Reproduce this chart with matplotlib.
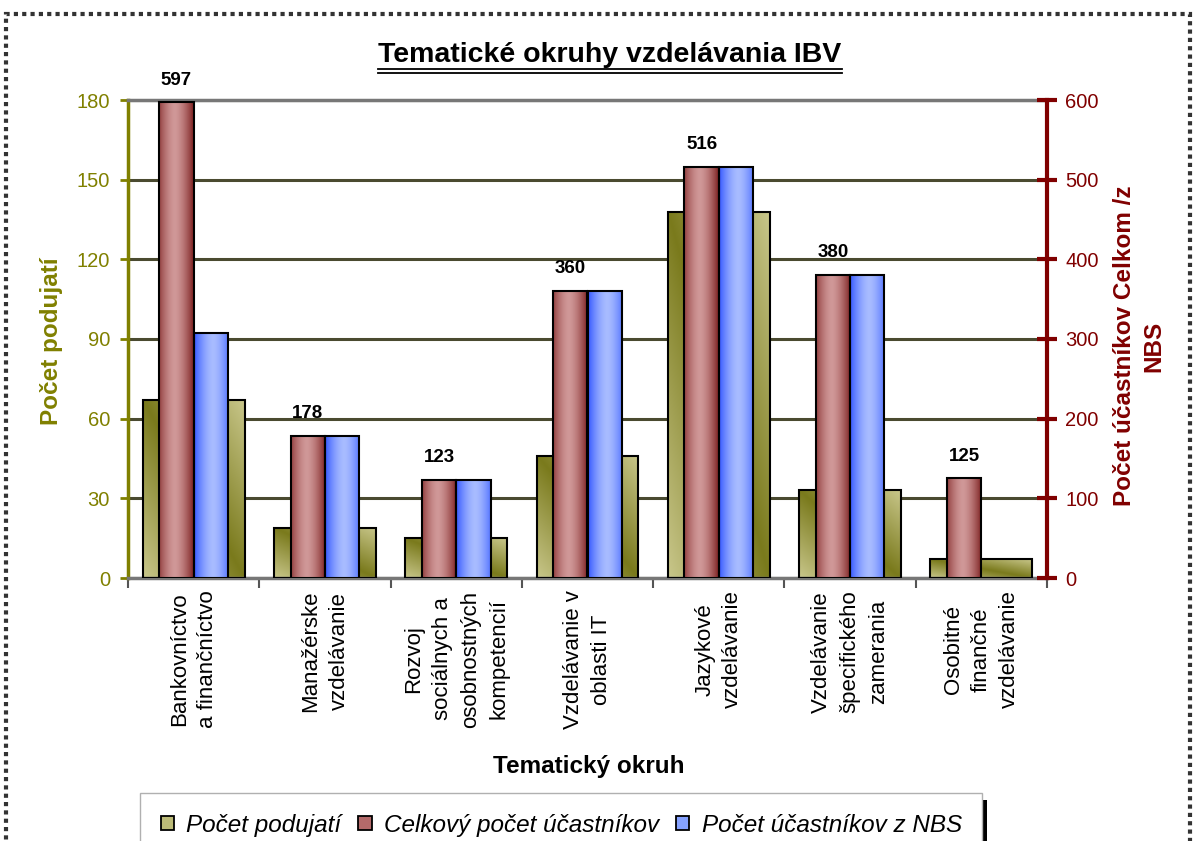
import numpy as np
import matplotlib
matplotlib.use("Agg")
import matplotlib.pyplot as plt
from matplotlib.patches import Patch, Rectangle
from matplotlib.lines import Line2D

plt.rcParams['font.family'] = ['Liberation Sans', 'DejaVu Sans']

# ---------------- data ----------------
categories = [
    "Bankovníctvo\na finančníctvo",
    "Manažérske\nvzdelávanie",
    "Rozvoj\nsociálnych a\nosobnostných\nkompetencií",
    "Vzdelávanie v\noblasti IT",
    "Jazykové\nvzdelávanie",
    "Vzdelávanie\nšpecifického\nzamerania",
    "Osobitné\nfinančné\nvzdelávanie",
]
pocet_podujati = [67, 19, 15, 46, 138, 33, 7]
celkovy_pocet = [597, 178, 123, 360, 516, 380, 125]
pocet_nbs = [308, 178, 123, 360, 516, 380, 0]

series_names = ["Počet podujatí", "Celkový počet účastníkov", "Počet účastníkov z NBS"]
left_ticks = [0, 30, 60, 90, 120, 150, 180]
right_ticks = [0, 100, 200, 300, 400, 500, 600]

title = "Tematické okruhy vzdelávania IBV"
xlabel = "Tematický okruh"
ylabel_left = "Počet podujatí"
ylabel_right = "Počet účastníkov Celkom /z\nNBS"

OLIVE = '#808000'
DRED = '#800000'

# ---------------- figure ----------------
W, H = 1195, 841
fig = plt.figure(figsize=(W / 100, H / 100), dpi=100)
ax = fig.add_axes([128 / W, 1 - 578 / H, (1047 - 128) / W, (578 - 100) / H])
ax2 = ax.twinx()

x = np.arange(len(categories))


def grad_h(dark, light, peak, n=64):
    u = np.linspace(0, 1, n)
    f = 1 - np.clip(np.abs(u - peak) / max(peak, 1 - peak), 0, 1) ** 1.6
    dark = np.array(dark) / 255.0
    light = np.array(light) / 255.0
    arr = dark[None, :] + (light - dark)[None, :] * f[:, None]
    return arr[None, :, :]


def grad_diag(dark, light, n=64):
    u = np.linspace(0, 1, n)
    U, V = np.meshgrid(u, u)
    t = np.abs(U - V)
    dark = np.array(dark) / 255.0
    light = np.array(light) / 255.0
    return dark[None, None, :] + (light - dark)[None, None, :] * t[:, :, None]


def fill_gradient(axis, bars, arr, z):
    for b in bars:
        if b.get_height() <= 0:
            b.set_visible(False)
            continue
        x0, w, h = b.get_x(), b.get_width(), b.get_height()
        im = axis.imshow(arr, extent=[x0, x0 + w, 0, h], aspect='auto',
                         origin='upper', interpolation='bilinear', zorder=z)
        im.set_clip_path(b)


# olive wide bars on left axis
b_olive = ax.bar(x, pocet_podujati, width=0.775, facecolor='none',
                 edgecolor='black', linewidth=1.5, zorder=3)
fill_gradient(ax, b_olive, grad_diag((122, 122, 28), (200, 198, 138)), 2.5)

# red and blue bars on right axis
bw = 0.262
b_red = ax2.bar(x - bw / 2, celkovy_pocet, width=bw, facecolor='none',
                edgecolor='black', linewidth=1.5, zorder=3)
fill_gradient(ax2, b_red, grad_h((125, 32, 32), (208, 152, 152), 0.45), 2.5)
b_blue = ax2.bar(x + bw / 2, pocet_nbs, width=bw, facecolor='none',
                 edgecolor='black', linewidth=1.5, zorder=3)
fill_gradient(ax2, b_blue, grad_h((55, 90, 255), (168, 188, 255), 0.55), 2.5)

# value labels on red bars
for xi, v in zip(x - bw / 2, celkovy_pocet):
    ax2.annotate(str(v), (xi, v), xytext=(0, 10), textcoords='offset points',
                 ha='center', va='bottom', fontsize=13.5, fontweight='bold',
                 color='black')

# axes limits
for a in (ax, ax2):
    a.set_xlim(-0.5, len(categories) - 0.5)
ax.set_ylim(0, 180)
ax2.set_ylim(0, 600)

# gridlines
ax.set_yticks(left_ticks)
ax.yaxis.grid(True, color='#4a4a30', linewidth=2.2)
ax.set_axisbelow(True)

# left axis styling
ax.tick_params(axis='y', colors=OLIVE, labelsize=14.5, length=6, width=2,
               direction='out', pad=7)
ax.spines['left'].set_color(OLIVE)
ax.spines['left'].set_linewidth(2.5)
for s in ('top', 'bottom'):
    ax.spines[s].set_color('#777777')
    ax.spines[s].set_linewidth(2.5)
    ax.spines[s].set_linestyle((0, (1, 1)))
ax.spines['right'].set_visible(False)

# right axis styling
ax2.set_yticks(right_ticks)
ax2.tick_params(axis='y', colors=DRED, labelsize=14.5, length=14, width=3,
                direction='inout', pad=6)
ax2.spines['right'].set_color(DRED)
ax2.spines['right'].set_linewidth(3)
for s in ('top', 'bottom', 'left'):
    ax2.spines[s].set_visible(False)

# x axis: labels at categories, ticks at boundaries
ax.set_xticks(x)
ax.set_xticklabels(categories, rotation=90, fontsize=16, va='top', ha='center',
                   multialignment='center', linespacing=1.45)
ax.tick_params(axis='x', length=0, pad=9)
ax.set_xticks(np.arange(len(categories) + 1) - 0.5, minor=True)
ax.tick_params(axis='x', which='minor', length=7, width=1.5, colors='#555555',
               direction='out')
ax2.tick_params(axis='x', which='both', length=0)

# titles / labels
t = fig.text(610 / W, 1 - 55 / H, title, ha='center', va='center',
             fontsize=20.5, fontweight='bold')
fig.text(589 / W, 1 - 766 / H, xlabel, ha='center', va='center',
         fontsize=17.5, fontweight='bold')
fig.text(52 / W, 1 - 341 / H, ylabel_left, ha='center', va='center',
         rotation=90, fontsize=17.5, fontweight='bold', color=OLIVE)
fig.text(1139 / W, 1 - 346 / H, ylabel_right, ha='center', va='center',
         rotation=90, fontsize=17.5, fontweight='bold', color=DRED,
         multialignment='center', linespacing=1.35)

# legend
handles = [
    Patch(facecolor='#bcbb78', edgecolor='black', linewidth=1.3),
    Patch(facecolor='#b46a6a', edgecolor='black', linewidth=1.3),
    Patch(facecolor='#86a2ff', edgecolor='black', linewidth=1.3),
]
leg = fig.legend(handles, series_names, loc='upper left',
                 bbox_to_anchor=(140 / W, 1 - 793 / H), ncol=3,
                 prop={'style': 'italic', 'size': 17.5},
                 handlelength=0.55, handleheight=0.55, handletextpad=0.5,
                 columnspacing=0.7, borderpad=0.85, borderaxespad=0,
                 fancybox=False, frameon=True, edgecolor='#b0b0b0',
                 framealpha=1)
leg.get_frame().set_linewidth(1.0)

# underline title (double)
fig.canvas.draw()
bb = t.get_window_extent(renderer=fig.canvas.get_renderer())
for yy in (H - 69.0, H - 72.5):
    fig.add_artist(Line2D([bb.x0 / W, bb.x1 / W], [yy / H, yy / H],
                          transform=fig.transFigure, color='black',
                          linewidth=1.3))

# legend shadow line at right
lb = leg.get_window_extent(renderer=fig.canvas.get_renderer())
fig.add_artist(Rectangle((lb.x1 / W, 0), 5 / W, (lb.y1 - 7) / H,
                         transform=fig.transFigure, facecolor='black',
                         edgecolor='none'))

# outer dotted border
fig.add_artist(Rectangle((6 / W, -0.05), (1190 - 6) / W, 1.05 - 14 / H,
                         transform=fig.transFigure, facecolor='none',
                         edgecolor='#333333', linewidth=3,
                         linestyle=(0, (1, 1))))

fig.savefig('out.png', dpi=100)
